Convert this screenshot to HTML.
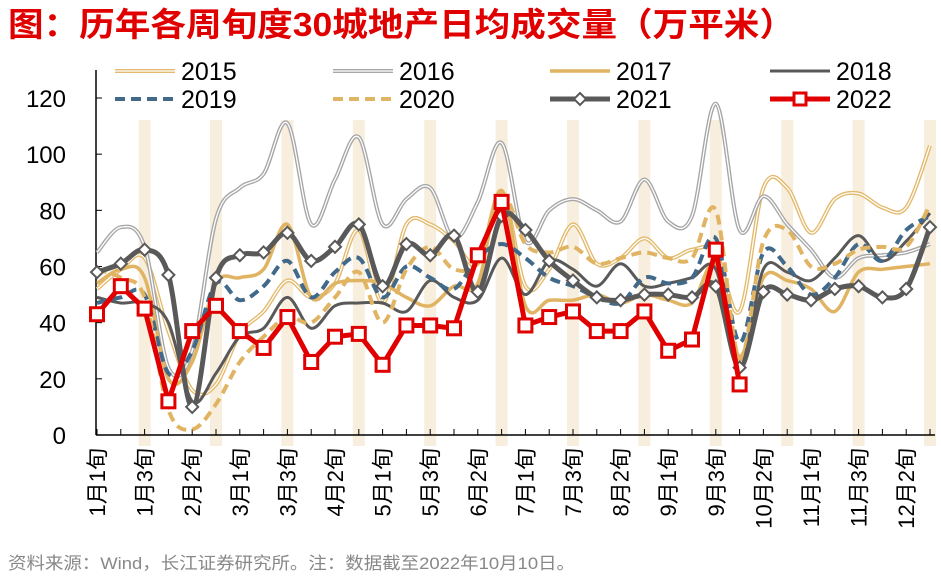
<!DOCTYPE html>
<html><head><meta charset="utf-8">
<style>
body{margin:0;background:#fff;width:941px;height:575px;overflow:hidden;}
svg text{font-family:"Liberation Sans","Noto Sans CJK SC",sans-serif;}
</style></head>
<body>
<svg id="chart" width="941" height="575" xmlns="http://www.w3.org/2000/svg">
<text x="8" y="36" font-size="33" font-weight="bold" fill="#e00000" textLength="787" lengthAdjust="spacingAndGlyphs">图：历年各周旬度30城地产日均成交量（万平米）</text>
<text x="8" y="569" font-size="17" fill="#888" textLength="567" lengthAdjust="spacingAndGlyphs">资料来源：Wind，长江证券研究所。注：数据截至2022年10月10日。</text>
<g id="bands"></g><g id="axes"></g><g id="series"></g><g id="legend"></g>
</svg>
<script>
const categories=["1月1旬","1月2旬","1月3旬","2月1旬","2月2旬","2月3旬","3月1旬","3月2旬","3月3旬","4月1旬","4月2旬","4月3旬","5月1旬","5月2旬","5月3旬","6月1旬","6月2旬","6月3旬","7月1旬","7月2旬","7月3旬","8月1旬","8月2旬","8月3旬","9月1旬","9月2旬","9月3旬","10月1旬","10月2旬","10月3旬","11月1旬","11月2旬","11月3旬","12月1旬","12月2旬","12月3旬"];
const yTicks=[0,20,40,60,80,100,120];
const s2015=[52,59,63,37,16,18,36,44,55,49,54,73,47,75,75,69,61,87,53,59,75,61,63,70,63,66,65,44,88,88,72,84,86,81,81,103];
const s2016=[65,74,67,24,30,77,88,93,111,75,91,106,75,84,88,70,83,104,69,80,84,80,76,91,76,78,118,73,85,75,66,56,63,64,65,68];
const s2017=[54,59,56,20,26,54,56,59,75,49,54,55,54,49,46,53,54,87,46,48,48,50,47,50,48,47,61,28,56,55,52,44,58,59,60,61];
const s2018=[49,47,47,40,12,22,35,38,49,38,46,47,47,44,55,49,48,63,50,62,59,53,61,53,54,56,59,24,59,58,55,63,71,62,69,79];
const s2019=[47,49,50,22,30,54,48,53,62,49,58,63,49,60,56,52,63,68,63,56,53,49,47,56,54,56,70,33,65,60,50,56,68,62,73,78];
const s2020=[59,56,49,9,2,11,26,35,42,40,49,58,40,59,67,59,62,86,68,65,67,61,63,65,63,63,80,27,69,73,60,61,66,67,67,82];
const s2021=[58,61,66,57,10,56,64,65,72,62,67,75,53,68,64,71,51,78,73,62,55,49,48,50,50,49,53,24,51,50,48,52,53,49,52,74];
const s2022=[43,53,45,12,37,46,37,31,42,26,35,36,25,39,39,38,64,83,39,42,44,37,37,44,30,34,66,18];
const NS="http://www.w3.org/2000/svg";
const x0=97,x1=930,yBase=435,yTop=98;
function xs(i){return x0+i*(x1-x0)/(categories.length-1);}
function ys(v){return yBase-v*(yBase-yTop)/120;}
function mk(tag,attrs,parent){const e=document.createElementNS(NS,tag);for(const k in attrs)e.setAttribute(k,attrs[k]);parent.appendChild(e);return e;}
const bands=document.getElementById('bands'),axes=document.getElementById('axes'),series=document.getElementById('series'),legend=document.getElementById('legend');
categories.forEach((c,i)=>{if(i%3===2){const b=mk('rect',{x:xs(i)-6,y:120,width:12,height:326,fill:'#f7eedd'},bands);

}});
const ya=mk('line',{x1:96,y1:70,x2:96,y2:435,stroke:'#000','stroke-width':1.5},axes);


const xa=mk('line',{x1:96,y1:435,x2:935,y2:435,stroke:'#000','stroke-width':1.5},axes);


yTicks.forEach(v=>{mk('line',{x1:96,y1:ys(v),x2:102,y2:ys(v),stroke:'#000'},axes);
const t=mk('text',{x:66,y:ys(v)+9,'font-size':24,'text-anchor':'end',fill:'#000'},axes);t.textContent=v;

});
categories.forEach((c,i)=>{mk('line',{x1:xs(i),y1:435,x2:xs(i),y2:429,stroke:'#000'},axes);
if(i%2===0){const t=mk('text',{x:0,y:0,'font-size':22,'text-anchor':'end',fill:'#000',transform:`translate(${xs(i)+8},448) rotate(-90)`},axes);t.textContent=c;

}});
function smooth(vals){const p=vals.map((v,i)=>[xs(i),ys(v)]);let d=`M${p[0][0]},${p[0][1]}`;
for(let i=0;i<p.length-1;i++){const a=p[i-1]||p[i],b=p[i],c=p[i+1],e=p[i+2]||c;
d+=` C${b[0]+(c[0]-a[0])/6},${b[1]+(c[1]-a[1])/6} ${c[0]-(e[0]-b[0])/6},${c[1]-(e[1]-b[1])/6} ${c[0]},${c[1]}`;}return d;}
function straight(vals){return vals.map((v,i)=>(i?'L':'M')+xs(i)+','+ys(v)).join(' ');}
const defs=[
 {name:'2015',data:s2015,color:'#e3b96b',w:4,dbl:true,lx:115,ly:71},
 {name:'2016',data:s2016,color:'#a6a6a6',w:4,dbl:true,lx:333,ly:71},
 {name:'2017',data:s2017,color:'#e1b463',w:3.5,lx:550,ly:71},
 {name:'2018',data:s2018,color:'#595959',w:3,lx:770,ly:71},
 {name:'2019',data:s2019,color:'#41698a',w:4,dash:'10,6',lx:115,ly:99},
 {name:'2020',data:s2020,color:'#e1b463',w:4,dash:'10,6',lx:333,ly:99},
 {name:'2021',data:s2021,color:'#595959',w:5,marker:'diamond',lx:550,ly:99},
 {name:'2022',data:s2022,color:'#e00000',w:5,marker:'square',straight:true,lx:770,ly:99}];
defs.forEach(s=>{const g=mk('g',{},series);


const d=s.straight?straight(s.data):smooth(s.data);
mk('path',{d:d,fill:'none',stroke:s.color,'stroke-width':s.w,'stroke-dasharray':s.dash||'none'},g);
if(s.dbl)mk('path',{d:d,fill:'none',stroke:'#fff','stroke-width':1.3},g);
if(s.marker){s.data.forEach((v,i)=>{const x=xs(i),y=ys(v);let m;
if(s.marker==='square'){m=mk('rect',{x:x-6.5,y:y-6.5,width:13,height:13,fill:'#fff',stroke:s.color,'stroke-width':3},g);}
else{m=mk('path',{d:`M${x},${y-6} L${x+6},${y} L${x},${y+6} L${x-6},${y} Z`,fill:'#fff',stroke:s.color,'stroke-width':2},g);}

});}
const lg=mk('g',{},legend);


mk('line',{x1:s.lx,y1:s.ly,x2:s.lx+60,y2:s.ly,stroke:s.color,'stroke-width':s.w,'stroke-dasharray':s.dash||'none'},lg);
if(s.dbl)mk('line',{x1:s.lx,y1:s.ly,x2:s.lx+60,y2:s.ly,stroke:'#fff','stroke-width':1.3},lg);
const mx=s.lx+30,my=s.ly;
if(s.marker==='square')mk('rect',{x:mx-6,y:my-6,width:12,height:12,fill:'#fff',stroke:s.color,'stroke-width':3},lg);
if(s.marker==='diamond')mk('path',{d:`M${mx},${my-6} L${mx+6},${my} L${mx},${my+6} L${mx-6},${my} Z`,fill:'#fff',stroke:s.color,'stroke-width':2},lg);
const t=mk('text',{x:s.lx+66,y:s.ly+9,'font-size':25,fill:'#000'},lg);t.textContent=s.name;});
</script>
</body></html>
